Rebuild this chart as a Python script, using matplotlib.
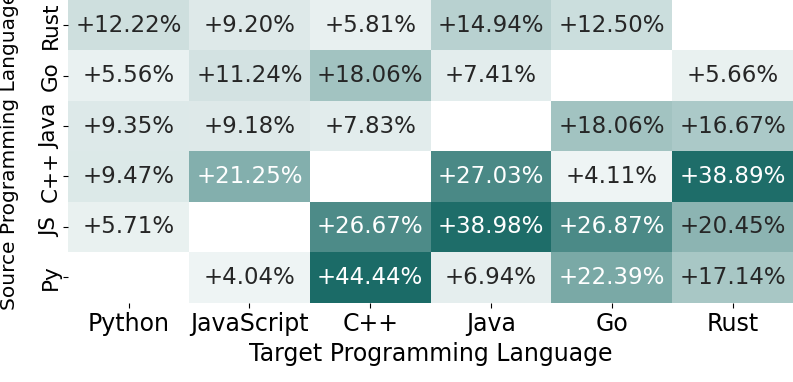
import numpy as np
import pandas as pd
import matplotlib
matplotlib.use('Agg')
import matplotlib.pyplot as plt
import seaborn as sns
from matplotlib.colors import LinearSegmentedColormap

# rows = source language, cols = target language
sources = ['Rust', 'Go', 'Java', 'C++', 'JS', 'Py']
targets = ['Python', 'JavaScript', 'C++', 'Java', 'Go', 'Rust']
rust_row = [12.22, 9.20, 5.81, 14.94, 12.50, np.nan]
go_row = [5.56, 11.24, 18.06, 7.41, np.nan, 5.66]
java_row = [9.35, 9.18, 7.83, np.nan, 18.06, 16.67]
cpp_row = [9.47, 21.25, np.nan, 27.03, 4.11, 38.89]
js_row = [5.71, np.nan, 26.67, 38.98, 26.87, 20.45]
py_row = [np.nan, 4.04, 44.44, 6.94, 22.39, 17.14]

df = pd.DataFrame([rust_row, go_row, java_row, cpp_row, js_row, py_row],
                  index=sources, columns=targets)
labels = df.map(lambda v: '' if np.isnan(v) else '+%.2f%%' % v)

# colour ramp shaped to the reference (light -> dark teal, saturating near 32%)
vmin, vmax = 4.0, 44.5
light = np.array([238, 244, 244]) / 255
dark = np.array([27, 107, 103]) / 255
ramp_at = [4.0, 5.8, 9.3, 12.2, 15.0, 18.0, 21.2, 22.4, 27.0, 32.0, 44.5]
ramp_r = [238, 232, 221, 205, 184, 162, 132, 122, 74, 34, 27]
nodes = []
for v, r in zip(ramp_at, ramp_r):
    f = (238 - r) / (238 - 27)
    nodes.append(((v - vmin) / (vmax - vmin), tuple(light + f * (dark - light))))
cmap = LinearSegmentedColormap.from_list('teal', nodes)

fig = plt.figure(figsize=(7.93, 3.82), dpi=100)
ax = fig.add_axes([0.086, 0.208, 0.914, 0.792])
sns.heatmap(df, annot=labels, fmt='', cmap=cmap, vmin=vmin, vmax=vmax,
            cbar=False, ax=ax, annot_kws={'fontsize': 16.5})
ax.set_xlabel('Target Programming Language', fontsize=17)
ax.set_ylabel('Source Programming Language', fontsize=14.5)
ax.yaxis.set_label_coords(-0.068, 0.5)
ax.tick_params(axis='x', labelsize=17)
ax.tick_params(axis='y', labelsize=15.5, pad=2)
plt.setp(ax.get_yticklabels(), rotation=90, va='center')
plt.setp(ax.get_xticklabels(), rotation=0)
fig.savefig('out.png', dpi=100)
